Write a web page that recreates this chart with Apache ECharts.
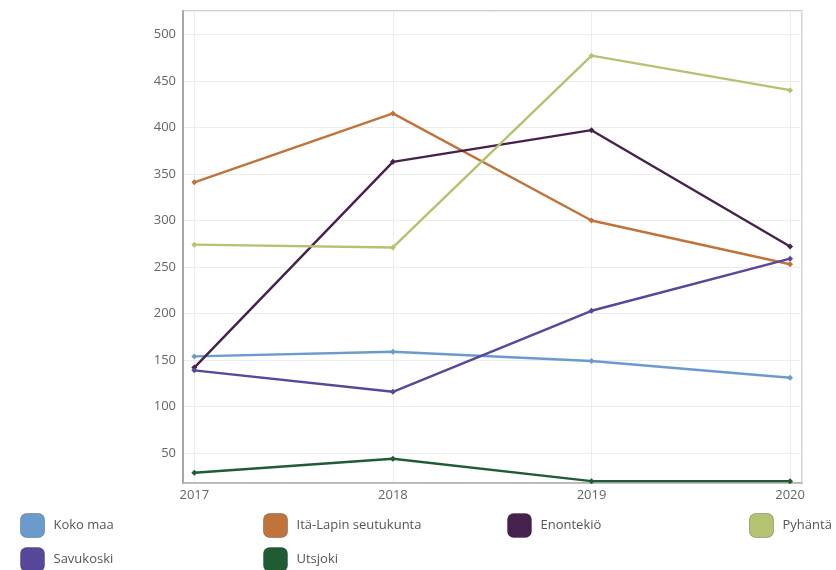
<!DOCTYPE html>
<html><head><meta charset="utf-8">
<script src="https://cdn.jsdelivr.net/npm/echarts@6/dist/echarts.min.js"></script>
<style>html,body{margin:0;padding:0;background:#fff}#c{width:836px;height:570px}</style>
</head><body><div id="c"></div>
<script>
const years = [2017, 2018, 2019, 2020];
const kokoMaa = [154, 159, 149, 131];
const itaLappi = [341, 415, 300, 253];
const enontekio = [142, 363, 397, 272];
const pyhanta = [274, 271, 477, 440];
const savukoski = [139, 116, 203, 259];
const utsjoki = [29, 44, 20, 20];
const seriesNames = ['Koko maa', 'Itä-Lapin seutukunta', 'Enontekiö', 'Pyhäntä', 'Savukoski', 'Utsjoki'];
const seriesValues = [kokoMaa, itaLappi, enontekio, pyhanta, savukoski, utsjoki];
const colors = ['#6b9acd', '#c0733a', '#47214d', '#b4c370', '#58479a', '#1f5c33'];

const font = '"Open Sans", sans-serif';
const legendPos = [[20, 513], [263, 513], [507, 513], [749, 513], [20, 547], [263, 547]];
const chart = echarts.init(document.getElementById('c'));
chart.setOption({
  animation: false,
  color: colors,
  grid: {left: 183, right: 34, top: 11, bottom: 87, show: true, borderColor: '#c4c4c4', borderWidth: 1.5},
  legend: seriesNames.map((n, i) => ({
    data: [n], left: legendPos[i][0], top: legendPos[i][1], orient: 'horizontal',
    icon: 'roundRect', itemWidth: 24, itemHeight: 24, itemGap: 0, padding: 0,
    itemStyle: {borderColor: 'rgba(0,0,0,0.25)', borderWidth: 1},
    textStyle: {fontFamily: font, fontSize: 13, color: '#555', padding: [0, 0, 0, 4]}
  })),
  xAxis: {
    type: 'value', min: 2016.943, max: 2020.06, splitNumber: 3,
    axisLine: {show: true, lineStyle: {color: '#b0b0b0', width: 1.5}},
    axisTick: {show: false},
    axisLabel: {fontFamily: font, fontSize: 13, color: '#666', margin: 6,
      showMinLabel: false, showMaxLabel: false,
      formatter: v => (Math.abs(v - Math.round(v)) < 1e-6 ? String(Math.round(v)) : '')},
    splitLine: {show: true, lineStyle: {color: '#ececec', width: 1}}
  },
  yAxis: {
    type: 'value', min: 18, max: 525, splitNumber: 10,
    axisLine: {show: true, lineStyle: {color: '#a8a8a8', width: 2}},
    axisTick: {show: false},
    axisLabel: {fontFamily: font, fontSize: 13, color: '#666', margin: 7,
      formatter: v => (v % 50 === 0 ? String(v) : '')},
    splitLine: {show: true, lineStyle: {color: '#ececec', width: 1}}
  },
  series: seriesNames.map((n, i) => ({
    name: n, type: 'line',
    data: years.map((y, j) => [y, seriesValues[i][j]]),
    symbol: 'diamond', symbolSize: 6, showSymbol: true,
    lineStyle: {width: 2.4, color: colors[i]},
    itemStyle: {color: colors[i]},
    emphasis: {disabled: true}
  }))
});
</script></body></html>
